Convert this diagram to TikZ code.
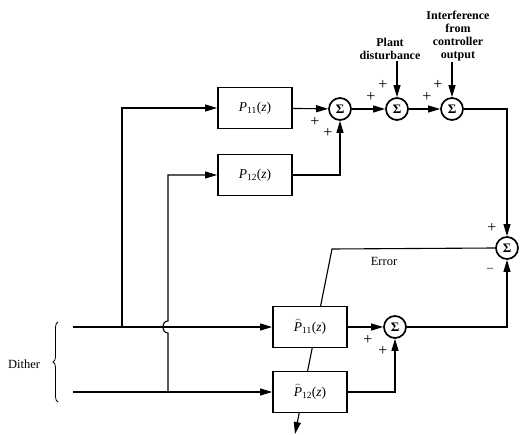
\documentclass[tikz,border=0pt]{standalone}
\usepackage{fontspec}
\setmainfont{Liberation Serif}
\usetikzlibrary{arrows.meta,decorations.pathreplacing,backgrounds}

\newlength{\du}
\setlength{\du}{1pt}
\newcommand{\plant}[1]{\textit{P}\textsubscript{#1}(\textit{z})}
\newcommand{\model}[1]{$\widehat{\mbox{\textit{P}}}$\textsubscript{#1}(\textit{z})}
\newcommand{\sumsign}{\textbf{Σ}}

\tikzset{
  blockbox/.style={draw, fill=white, line width=1.8pt, minimum width=74\du,
    minimum height=41\du, inner sep=0pt, font=\fontsize{13.5}{15}\selectfont},
  sumnode/.style={draw, fill=white, circle, line width=1.7pt, minimum size=22\du,
    inner sep=0pt, font=\fontsize{13}{13}\selectfont},
  sig/.style={line width=1.1pt, -{Triangle[length=12pt,width=7pt]}},
  wire/.style={line width=1.1pt},
  sgn/.style={inner sep=0pt, font=\fontsize{16}{16}\selectfont},
  toplabel/.style={align=center, inner sep=1pt, font=\bfseries\fontsize{12}{13}\selectfont},
  sidelabel/.style={font=\fontsize{12.5}{14}\selectfont},
}

\begin{document}
\begin{tikzpicture}[x=\du, y=-\du]
\useasboundingbox (0,0) rectangle (528,435);
% plant blocks and summing junctions
\node[blockbox] (p11) at (255,108) {\plant{11}};
\node[blockbox] (p12) at (255,175) {\plant{12}};
\node[sumnode] (s1) at (340,109) {\sumsign};
\node[sumnode] (s2) at (397,109) {\sumsign};
\node[sumnode] (s3) at (452,109) {\sumsign};
\node[sumnode] (se) at (507,248) {\sumsign};
% model blocks
\node[blockbox] (h11) at (310,327) {\model{11}};
\node[blockbox] (h12) at (310,392) {\model{12}};
\node[sumnode] (s4) at (395,327) {\sumsign};
% outside inputs
\node[toplabel] (pd) at (390,49) {Plant\\disturbance};
\node[toplabel] (ci) at (458,36) {Interference\\from\\controller\\output};
\node[sidelabel] (dith) at (24,364) {Dither};
\node[sidelabel] (errl) at (384,261) {Error};

\coordinate (in1) at (73,327);
\coordinate (in2) at (73,392);
\coordinate (j1) at (122,327);
\coordinate (j2) at (168,392);
\coordinate (hopa) at (168,333);
\coordinate (hopb) at (168,321);
\coordinate (bend) at (332,249);
\coordinate (adapt) at (295,434);

% dither feeds
\draw[sig] (in1) -- (h11.west);
\draw[sig] (in2) -- (h12.west);
\draw[sig] (j1) |- (p11.west);
\draw[sig] (j2) -- (hopa) .. controls (161,333) and (161,321) .. (hopb) |- (p12.west);
\draw[decorate, decoration={brace, amplitude=5pt}, line width=0.8pt] (58,402) -- (58,322);

% plant path
\draw[sig] (p11) -- (s1);
\draw[sig] (p12.east) -| (s1.south);
\draw[sig] (s1) -- (s2);
\draw[sig] (s2) -- (s3);
\draw[sig] (s3.east) -| (se.north);
\draw[sig] (pd.south -| s2) -- (s2.north);
\draw[sig] (ci.south -| s3) -- (s3.north);

% model path
\draw[sig] (h11) -- (s4);
\draw[sig] (h12.east) -| (s4.south);
\draw[sig] (s4.east) -| (se.south);

% error goes back through the models
\begin{pgfonlayer}{background}
\draw[sig] (se.west) -- (bend) -- (adapt);
\end{pgfonlayer}

% signs
\node[sgn] (a1) at (315,122) {+};
\node[sgn] (a2) at (328,133) {+};
\node[sgn] (b1) at (371,97) {+};
\node[sgn] (b2) at (383,85) {+};
\node[sgn] (c1) at (427,97) {+};
\node[sgn] (c2) at (438,85) {+};
\node[sgn] (e1) at (492,228) {+};
\node[sgn, font=\fontsize{12}{12}\selectfont] (e2) at (490,270) {–};
\node[sgn] (d1) at (368,340) {+};
\node[sgn] (d2) at (383,351) {+};
\end{tikzpicture}
\end{document}
